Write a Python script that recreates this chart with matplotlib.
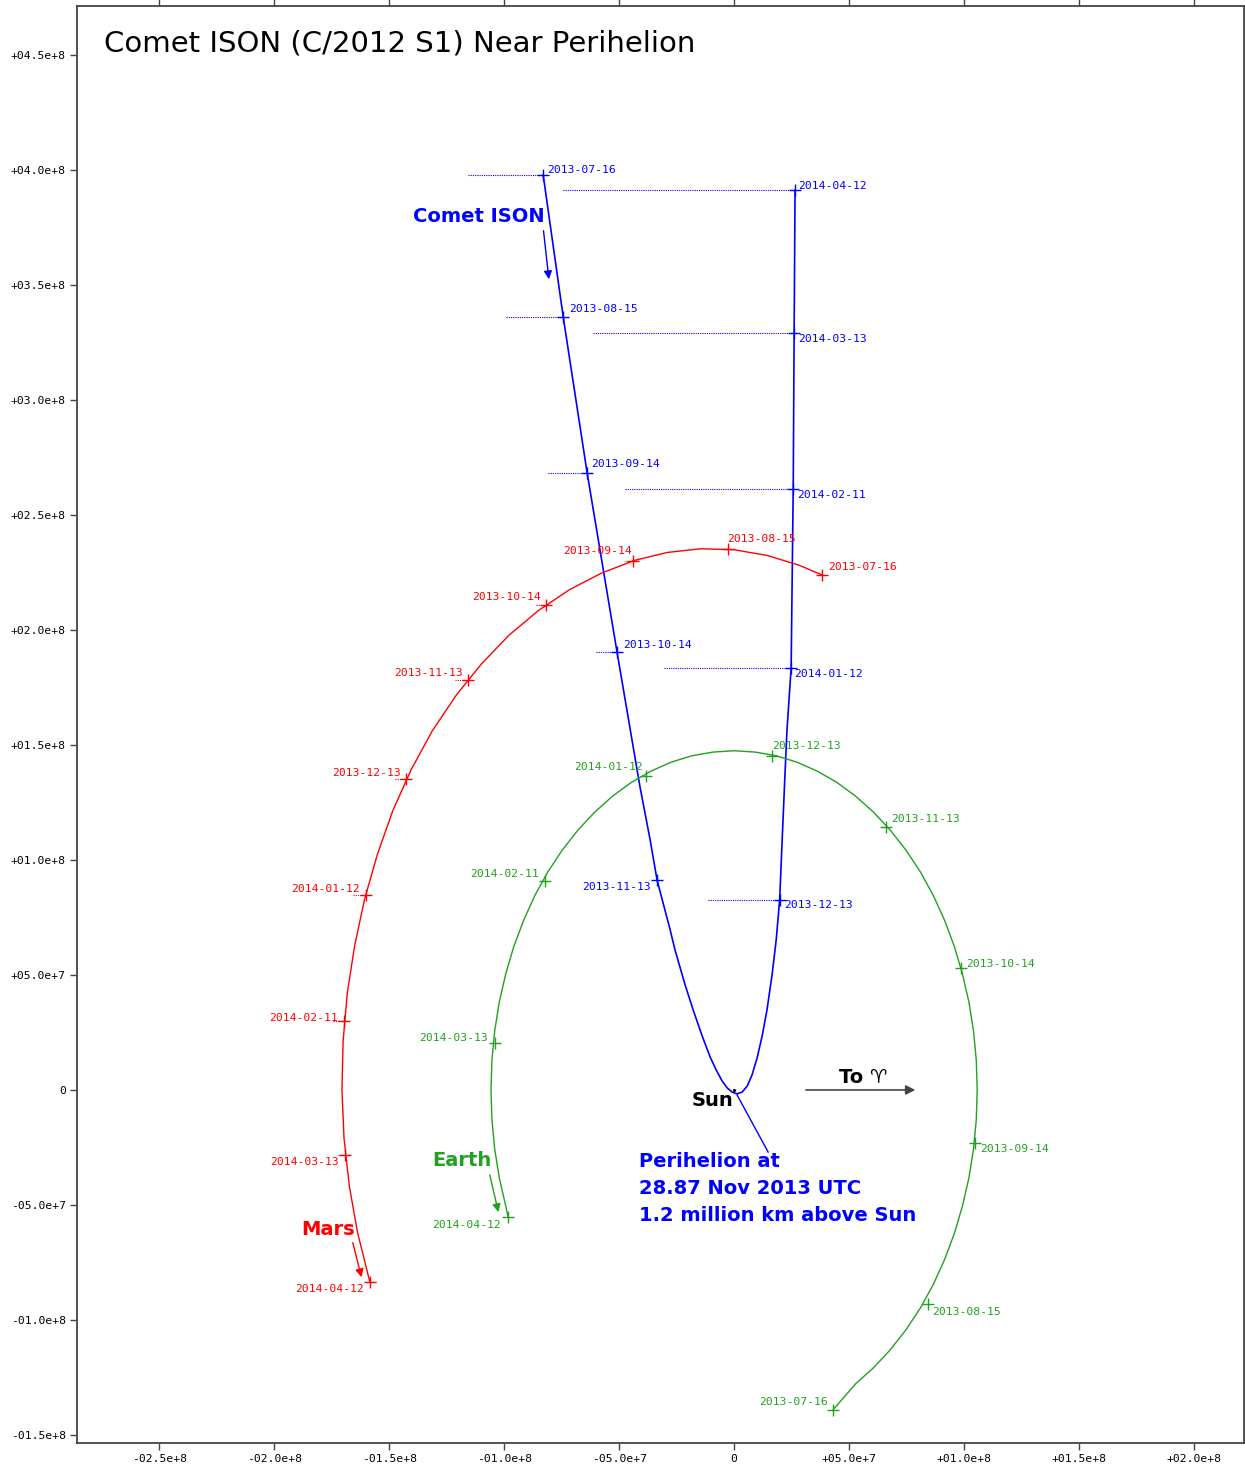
import numpy as np
import matplotlib.pyplot as plt

# DATA  (positions in millions of km, projected view; Sun at 0,0)
dates = ['2013-07-16', '2013-08-15', '2013-09-14', '2013-10-14', '2013-11-13',
         '2013-12-13', '2014-01-12', '2014-02-11', '2014-03-13', '2014-04-12']

comet_x = [-83.0, -74.3, -63.9, -50.9, -33.5, 19.8, 24.8, 25.7, 26.1, 26.5]
comet_y = [397.8, 336.1, 268.3, 190.4, 91.3, 82.6, 183.5, 261.3, 329.1, 391.3]
comet_drop = [32.6, 24.8, 17.0, 9.1, -1.0, 31.3, 55.2, 73.0, 87.4, 100.9]

mars_x = [38.3, -2.6, -43.9, -81.7, -115.7, -142.6, -160.0, -169.6, -169.1, -158.3]
mars_y = [223.9, 235.2, 230.0, 210.9, 178.3, 135.2, 84.8, 30.0, -28.3, -83.5]
mars_drop = [1.3, 0.0, 3.5, 4.3, 5.7, 4.8, 5.7, 4.8, 3.0, -2.5]

earth_x = [43.0, 84.3, 104.8, 98.7, 66.1, 16.5, -38.3, -82.2, -103.9, -98.3]
earth_y = [-139.1, -93.0, -23.0, 53.0, 114.3, 145.2, 136.5, 90.9, 20.4, -55.2]

# orbit tracks
comet_track_x = [-83.0, -74.3, -63.9, -50.9, -40.9, -36.5, -33.5, -27.8, -25.7,
                 -21.3, -17.8, -13.9, -10.4, -7.8, -5.2, -3.0, -0.9, 1.3, 3.5, 5.7,
                 7.8, 10.0, 12.2, 14.3, 16.5, 18.3, 19.8, 20.9, 22.2, 23.0, 24.8,
                 25.7, 26.1, 26.5]
comet_track_y = [397.8, 336.1, 268.3, 190.4, 131.7, 108.7, 91.3, 69.6, 60.9,
                 45.7, 34.8, 23.5, 14.3, 8.7, 3.9, 0.9, -0.9, -1.7, -0.9, 1.7,
                 6.5, 13.9, 23.5, 34.8, 50.0, 65.2, 82.6, 108.7, 139.1, 156.5, 183.5,
                 261.3, 329.1, 391.3]

mars_track_x = [38.3, 28.4, 14.4, 0.0, -14.5, -29.1, -43.5, -57.7, -71.6, -85.0,
                -97.8, -109.8, -121.0, -131.3, -140.4, -148.4, -155.1, -160.7, -165.0,
                -168.2, -170.0, -170.5, -169.6, -167.3, -163.7, -158.8, -158.3]
mars_track_y = [223.9, 228.1, 232.4, 234.9, 235.3, 233.7, 230.2, 224.7, 217.5, 208.5,
                197.8, 185.3, 171.4, 156.0, 139.3, 121.4, 102.4, 82.8, 62.6,
                42.0, 21.1, 0.0, -21.0, -41.8, -62.1, -81.8, -83.5]

earth_track_x = [43.0, 52.9, 60.6, 67.9, 74.7, 81.0, 86.6, 91.5, 95.8, 99.3, 102.1,
                 104.1, 105.3, 105.7, 105.3, 104.1, 102.1, 99.3, 95.8, 91.5, 86.6,
                 81.0, 74.7, 67.9, 60.6, 52.9, 44.7, 36.2, 27.4, 18.4, 9.2, 0.0,
                 -9.2, -18.4, -27.4, -36.2, -44.7, -52.9, -60.6, -67.9, -74.7, -81.0,
                 -86.6, -91.5, -95.8, -99.3, -102.1, -104.1, -105.3, -105.7, -105.3,
                 -104.1, -102.1, -99.3, -98.3]
earth_track_y = [-139.1, -127.7, -120.8, -113.0, -104.3, -94.8, -84.6, -73.8, -62.3,
                 -50.4, -38.2, -25.6, -12.9, 0.0, 12.9, 25.6, 38.2, 50.4, 62.3, 73.8,
                 84.6, 94.8, 104.3, 113.0, 120.8, 127.7, 133.7, 138.6, 142.5, 145.3,
                 146.9, 147.5, 146.9, 145.3, 142.5, 138.6, 133.7, 127.7, 120.8, 113.0,
                 104.3, 94.8, 84.6, 73.8, 62.3, 50.4, 38.2, 25.6, 12.9, 0.0, -12.9,
                 -25.6, -38.2, -50.4, -55.2]

xtick_vals = [-250, -200, -150, -100, -50, 0, 50, 100, 150, 200]
xtick_labels = ['-02.5e+8', '-02.0e+8', '-01.5e+8', '-01.0e+8', '-05.0e+7', '0',
                '+05.0e+7', '+01.0e+8', '+01.5e+8', '+02.0e+8']
ytick_vals = [-150, -100, -50, 0, 50, 100, 150, 200, 250, 300, 350, 400, 450]
ytick_labels = ['-01.5e+8', '-01.0e+8', '-05.0e+7', '0', '+05.0e+7', '+01.0e+8',
                '+01.5e+8', '+02.0e+8', '+02.5e+8', '+03.0e+8', '+03.5e+8',
                '+04.0e+8', '+04.5e+8']

# label offsets in pixels (dx, dy, ha)
comet_off = [(4, 5, 'left'), (6, 8, 'left'), (4, 9, 'left'), (6, 7, 'left'),
             (-6, -7, 'right'), (5, -5, 'left'), (3, -6, 'left'), (4, -6, 'left'),
             (4, -6, 'left'), (3, 4, 'left')]
mars_off = [(6, 8, 'left'), (-1, 10, 'left'), (-1, 10, 'right'), (-5, 8, 'right'),
            (-5, 7, 'right'), (-5, 6, 'right'), (-6, 6, 'right'), (-6, 3, 'right'),
            (-6, -7, 'right'), (-6, -7, 'right')]
earth_off = [(-5, 8, 'right'), (4, -8, 'left'), (5, -6, 'left'), (5, 4, 'left'),
             (5, 8, 'left'), (0, 10, 'left'), (-3, 9, 'right'), (-6, 7, 'right'),
             (-7, 5, 'right'), (-7, -8, 'right')]

BLUE = '#0000ff'
RED = '#ff0000'
GREEN = '#22a022'
MONO = 'DejaVu Sans Mono'

fig = plt.figure(figsize=(12.45, 14.69), dpi=100)
ax = fig.add_axes([77/1245, 26/1469, 1167/1245, 1437/1469])
ax.set_xlim(-285.7, 221.7)
ax.set_ylim(-153.5, 471.3)

# orbits
ax.plot(comet_track_x, comet_track_y, color=BLUE, lw=1.2)
ax.plot(mars_track_x, mars_track_y, color=RED, lw=1.0)
ax.plot(earth_track_x, earth_track_y, color=GREEN, lw=1.0)

# drop lines
for x, y, d in zip(comet_x, comet_y, comet_drop):
    ax.plot([x - d, x], [y, y], color=BLUE, lw=0.8, ls=(0, (1, 1)))
for x, y, d in zip(mars_x, mars_y, mars_drop):
    ax.plot([x - d, x], [y, y], color=RED, lw=0.8, ls=(0, (1, 1)))

# date markers and labels
for xs, ys, offs, col in [(comet_x, comet_y, comet_off, BLUE),
                          (mars_x, mars_y, mars_off, RED),
                          (earth_x, earth_y, earth_off, GREEN)]:
    ax.plot(xs, ys, ls='none', marker='+', ms=8, mew=1.0, color=col)
    for x, y, d, (dx, dy, ha) in zip(xs, ys, dates, offs):
        ax.annotate(d, (x, y), xytext=(dx, dy), textcoords='offset pixels',
                    ha=ha, va='center', fontsize=8.2, family=MONO, color=col)

# Sun
ax.plot([0], [0], 'k.', ms=2.5)
ax.text(-0.5, -4.5, 'Sun', ha='right', va='center', fontsize=14,
        fontweight='bold', color='black')

# name labels with arrows
ax.text(-82.5, 379.6, 'Comet ISON', ha='right', va='center', fontsize=14,
        fontweight='bold', color=BLUE)
ax.annotate('', xy=(-80.4, 351.3), xytext=(-83.0, 374.8),
            arrowprops=dict(arrowstyle='-|>', color=BLUE, lw=1.0, mutation_scale=12))
ax.text(-165.0, -60.5, 'Mars', ha='right', va='center', fontsize=14,
        fontweight='bold', color=RED)
ax.annotate('', xy=(-161.7, -82.6), xytext=(-166.1, -65.2),
            arrowprops=dict(arrowstyle='-|>', color=RED, lw=1.0, mutation_scale=12))
ax.text(-105.5, -30.5, 'Earth', ha='right', va='center', fontsize=14,
        fontweight='bold', color=GREEN)
ax.annotate('', xy=(-102.2, -54.3), xytext=(-106.5, -35.7),
            arrowprops=dict(arrowstyle='-|>', color=GREEN, lw=1.0, mutation_scale=12))

# perihelion note
ax.plot([1.3, 14.8], [-2.2, -27.0], color=BLUE, lw=1.0)
ax.text(-41.5, -26.8, 'Perihelion at\n28.87 Nov 2013 UTC\n1.2 million km above Sun',
        ha='left', va='top', fontsize=14, fontweight='bold', color=BLUE,
        linespacing=1.56)

# direction of vernal equinox
ax.annotate('', xy=(80.0, 0.0), xytext=(30.0, 0.0),
            arrowprops=dict(arrowstyle='-|>', color='#444444', lw=1.2,
                            mutation_scale=14, facecolor='black'))
ax.text(45.5, 5.5, 'To \u2648', ha='left', va='center', fontsize=14,
        fontweight='bold', color='black')

# title
ax.text(0.023, 0.974, 'Comet ISON (C/2012 S1) Near Perihelion', transform=ax.transAxes,
        ha='left', va='center', fontsize=21, color='black')

# axes
ax.set_xticks(xtick_vals)
ax.set_xticklabels(xtick_labels, family=MONO, fontsize=8.2)
ax.set_yticks(ytick_vals)
ax.set_yticklabels(ytick_labels, family=MONO, fontsize=8.2)
ax.tick_params(direction='out', length=5, width=1, color='#444444', pad=3,
               top=True, right=False)
for s in ax.spines.values():
    s.set_color('#444444')
    s.set_linewidth(1.3)

fig.savefig('out.png', dpi=100)
